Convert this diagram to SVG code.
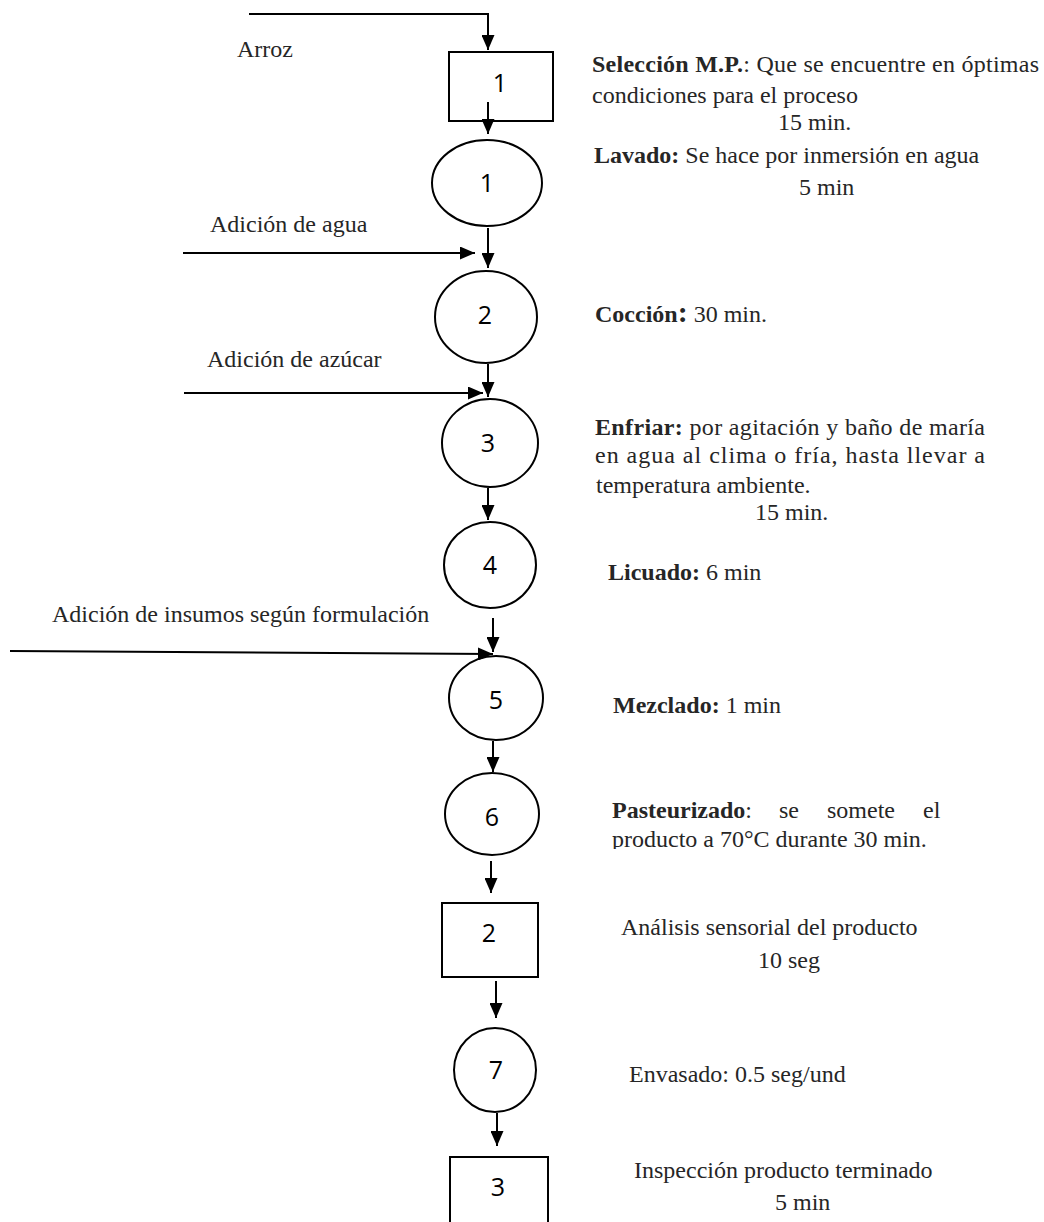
<svg xmlns="http://www.w3.org/2000/svg" width="1044" height="1222" viewBox="0 0 1044 1222">
  <style>
    .t { font-family: "Liberation Serif", "Times New Roman", serif; font-size: 24px; fill: #262626; }
    .b { font-weight: bold; }
    .n { font-family: "Open Sans", "Noto Sans", sans-serif; font-size: 25px; fill: #000; text-anchor: middle; }
    .shape { fill: #fff; stroke: #000; stroke-width: 2; }
    .conn { fill: none; stroke: #000; stroke-width: 2; }
  </style>
  <defs>
    <marker id="ah" viewBox="0 0 15 13" refX="15" refY="6.5" markerWidth="15" markerHeight="13" markerUnits="userSpaceOnUse" orient="auto">
      <path d="M0,0 L15,6.5 L0,13 z" fill="#000"/>
    </marker>
    <clipPath id="clipPast">
      <rect x="600" y="800" width="420" height="49"/>
    </clipPath>
  </defs>
  <rect width="1044" height="1222" fill="#fff"/>

  <!-- nodes -->
  <g id="box1"><rect class="shape" x="449" y="52" width="104" height="69"/><text class="n" x="500" y="92">1</text></g>
  <g id="op1"><ellipse class="shape" cx="487" cy="183" rx="55" ry="43"/><text class="n" x="487" y="192">1</text></g>
  <g id="op2"><ellipse class="shape" cx="486" cy="317" rx="51" ry="46"/><text class="n" x="485" y="324">2</text></g>
  <g id="op3"><ellipse class="shape" cx="490" cy="443" rx="48" ry="44"/><text class="n" x="488" y="452">3</text></g>
  <g id="op4"><ellipse class="shape" cx="490" cy="565" rx="46" ry="43"/><text class="n" x="490" y="574">4</text></g>
  <g id="op5"><ellipse class="shape" cx="496" cy="698" rx="47" ry="42"/><text class="n" x="496" y="709">5</text></g>
  <g id="op6"><ellipse class="shape" cx="492" cy="814" rx="47" ry="41"/><text class="n" x="492" y="826">6</text></g>
  <g id="box2"><rect class="shape" x="442" y="903" width="96" height="74"/><text class="n" x="489" y="942">2</text></g>
  <g id="op7"><ellipse class="shape" cx="495" cy="1070" rx="41" ry="42"/><text class="n" x="496" y="1079">7</text></g>
  <g id="box3"><rect class="shape" x="450" y="1157" width="98" height="80"/><text class="n" x="498" y="1196">3</text></g>

  <!-- connectors -->
  <g id="connectors">
    <polyline class="conn" points="249,14 488,14 488,50" marker-end="url(#ah)"/>
    <line class="conn" x1="488" y1="102" x2="488" y2="134" marker-end="url(#ah)"/>
    <line class="conn" x1="488" y1="228" x2="488" y2="268" marker-end="url(#ah)"/>
    <line class="conn" x1="183" y1="253" x2="475" y2="253" marker-end="url(#ah)"/>
    <line class="conn" x1="488" y1="364" x2="488" y2="397" marker-end="url(#ah)"/>
    <line class="conn" x1="184" y1="393" x2="483" y2="393" marker-end="url(#ah)"/>
    <line class="conn" x1="488" y1="488" x2="488" y2="520" marker-end="url(#ah)"/>
    <line class="conn" x1="493" y1="618" x2="493" y2="652" marker-end="url(#ah)"/>
    <line class="conn" x1="10" y1="651" x2="493" y2="654" marker-end="url(#ah)"/>
    <line class="conn" x1="493" y1="741" x2="493" y2="772" marker-end="url(#ah)"/>
    <line class="conn" x1="491" y1="861" x2="491" y2="893" marker-end="url(#ah)"/>
    <line class="conn" x1="496" y1="981" x2="496" y2="1018" marker-end="url(#ah)"/>
    <line class="conn" x1="497" y1="1113" x2="497" y2="1146" marker-end="url(#ah)"/>
  </g>

  <!-- input labels -->
  <g id="labels-in">
    <text class="t" x="237" y="57">Arroz</text>
    <text class="t" x="210" y="232">Adición de agua</text>
    <text class="t" x="207" y="367">Adición de azúcar</text>
    <text class="t" x="52" y="622">Adición de insumos según formulación</text>
  </g>

  <!-- descriptions -->
  <g id="desc">
    <text class="t" x="592" y="72" textLength="447" lengthAdjust="spacing"><tspan class="b">Selección M.P.</tspan>: Que se encuentre en óptimas</text>
    <text class="t" x="592" y="103">condiciones para el proceso</text>
    <text class="t" x="778" y="130">15 min.</text>
    <text class="t" x="594" y="163"><tspan class="b">Lavado:</tspan> Se hace por inmersión en agua</text>
    <text class="t" x="799" y="195">5 min</text>
    <text class="t" x="595" y="322"><tspan class="b">Cocción</tspan><tspan class="b" font-size="30">:</tspan> 30 min.</text>
    <text class="t" x="595" y="435" textLength="390" lengthAdjust="spacing"><tspan class="b">Enfriar:</tspan> por agitación y baño de maría</text>
    <text class="t" x="595" y="463" textLength="390" lengthAdjust="spacing">en agua al clima o fría, hasta llevar a</text>
    <text class="t" x="596" y="493">temperatura ambiente.</text>
    <text class="t" x="755" y="520">15 min.</text>
    <text class="t" x="608" y="580"><tspan class="b">Licuado:</tspan> 6 min</text>
    <text class="t" x="613" y="713"><tspan class="b">Mezclado:</tspan> 1 min</text>
    <text class="t" y="818"><tspan x="612" class="b">Pasteurizado</tspan><tspan>:</tspan><tspan x="779">se</tspan><tspan x="827">somete</tspan><tspan x="923">el</tspan></text>
    <text class="t" x="612" y="847" clip-path="url(#clipPast)">producto a 70°C durante 30  min.</text>
    <text class="t" x="621" y="935">Análisis sensorial del producto</text>
    <text class="t" x="758" y="968">10 seg</text>
    <text class="t" x="629" y="1082">Envasado: 0.5 seg/und</text>
    <text class="t" x="634" y="1178">Inspección producto terminado</text>
    <text class="t" x="775" y="1210">5 min</text>
  </g>
</svg>
